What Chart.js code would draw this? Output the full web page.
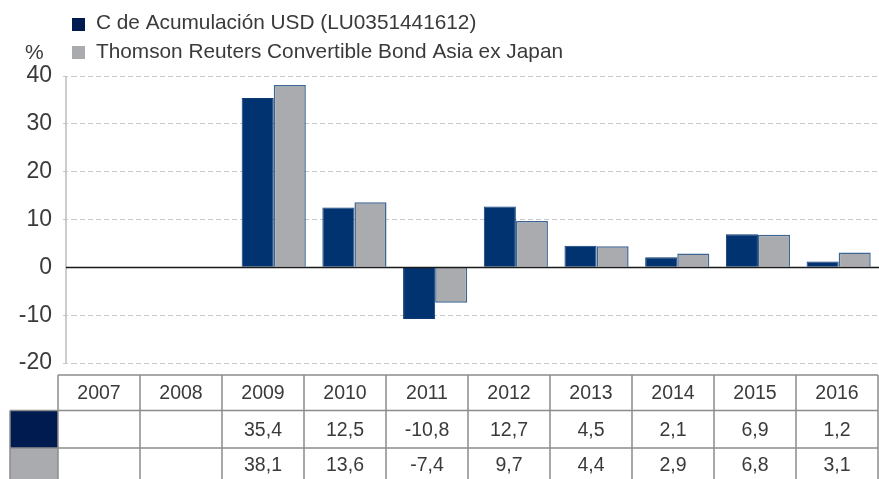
<!DOCTYPE html>
<html>
<head>
<meta charset="utf-8">
<script src="https://cdn.jsdelivr.net/npm/chart.js@4.4.1/dist/chart.umd.min.js"></script>
<style>
  html, body { margin: 0; padding: 0; background: #fff; }
  #wrap { width: 879px; height: 479px; position: relative; }
</style>
</head>
<body>
<div id="wrap"><canvas id="perf"></canvas></div>
<script>
const years = ['2007', '2008', '2009', '2010', '2011', '2012', '2013', '2014', '2015', '2016'];
const fundValues = [null, null, 35.4, 12.5, -10.8, 12.7, 4.5, 2.1, 6.9, 1.2];
const indexValues = [null, null, 38.1, 13.6, -7.4, 9.7, 4.4, 2.9, 6.8, 3.1];
const seriesNames = ['C de Acumulación USD (LU0351441612)', 'Thomson Reuters Convertible Bond Asia ex Japan'];
const yTicks = [40, 30, 20, 10, 0, -10, -20];

const NAVY = '#00336f';
const NAVY_DARK = '#001b4f';
const GREY = '#a9abaf';
const TEXT = '#3a3a3a';
const FONT = '"Liberation Sans", Arial, sans-serif';

function fmt(v) {
    return v === null ? '' : v.toFixed(1).replace('.', ',');
}

// legend, zero line, y axis line and the data table underneath
const extras = {
    id: 'extras',
    afterDatasetsDraw(chart) {
        const ctx = chart.ctx;
        const area = chart.chartArea;
        const y = chart.scales.y;
        ctx.save();
        // y axis line
        ctx.strokeStyle = '#bdbdbd';
        ctx.lineWidth = 1.5;
        ctx.beginPath();
        ctx.moveTo(66, area.top);
        ctx.lineTo(66, area.bottom);
        ctx.stroke();
        // zero line
        const y0 = Math.round(y.getPixelForValue(0)) + 0.5;
        ctx.strokeStyle = '#1a1a1a';
        ctx.lineWidth = 1.5;
        ctx.beginPath();
        ctx.moveTo(66, y0);
        ctx.lineTo(area.right, y0);
        ctx.stroke();
        ctx.restore();
    },
    afterDraw(chart) {
        const ctx = chart.ctx;
        const area = chart.chartArea;
        ctx.save();

        // legend
        ctx.fillStyle = NAVY_DARK;
        ctx.fillRect(72, 18, 13, 13);
        ctx.fillStyle = GREY;
        ctx.fillRect(72, 46, 13, 13);
        ctx.fillStyle = TEXT;
        ctx.font = '20.8px ' + FONT;
        ctx.textBaseline = 'middle';
        ctx.textAlign = 'left';
        ctx.fillText(seriesNames[0], 96, 23);
        ctx.fillText(seriesNames[1], 96, 52);
        ctx.font = '21px ' + FONT;
        ctx.fillText('%', 25, 53);

        // table
        const left = 58, right = area.right - 1;
        const colW = (right - left) / years.length;
        const rows = [375, 410.5, 448, 486];
        ctx.strokeStyle = '#8c8c8c';
        ctx.lineWidth = 1.5;

        // swatch cells
        ctx.fillStyle = NAVY_DARK;
        ctx.fillRect(10, rows[1], left - 10, rows[2] - rows[1]);
        ctx.fillStyle = GREY;
        ctx.fillRect(10, rows[2], left - 10, rows[3] - rows[2]);

        ctx.beginPath();
        ctx.moveTo(left, rows[0]);
        ctx.lineTo(right, rows[0]);
        ctx.moveTo(10, rows[1]);
        ctx.lineTo(right, rows[1]);
        ctx.moveTo(10, rows[2]);
        ctx.lineTo(right, rows[2]);
        ctx.moveTo(10, rows[1]);
        ctx.lineTo(10, rows[3]);
        for (let i = 0; i <= years.length; i++) {
            const x = left + i * colW;
            ctx.moveTo(x, rows[0]);
            ctx.lineTo(x, rows[3]);
        }
        ctx.stroke();

        ctx.fillStyle = TEXT;
        ctx.font = '19.5px ' + FONT;
        ctx.textAlign = 'center';
        years.forEach((yr, i) => {
            const cx = left + (i + 0.5) * colW;
            ctx.fillText(yr, cx, (rows[0] + rows[1]) / 2 + 1);
            ctx.fillText(fmt(fundValues[i]), cx, (rows[1] + rows[2]) / 2 + 1);
            ctx.fillText(fmt(indexValues[i]), cx, (rows[2] + 479) / 2 + 2);
        });
        ctx.restore();
    }
};

new Chart(document.getElementById('perf'), {
    type: 'bar',
    data: {
        labels: years,
        datasets: [
            {
                label: seriesNames[0],
                data: fundValues,
                backgroundColor: NAVY,
                borderColor: '#0b3a74',
                borderWidth: 1
            },
            {
                label: seriesNames[1],
                data: indexValues,
                backgroundColor: GREY,
                borderColor: '#3f6592',
                borderWidth: 1.5
            }
        ]
    },
    options: {
        responsive: true,
        maintainAspectRatio: false,
        animation: false,
        layout: { padding: { top: 76, bottom: 116, left: 0, right: 0 } },
        datasets: {
            bar: { categoryPercentage: 0.795, barPercentage: 1 }
        },
        plugins: {
            legend: { display: false },
            tooltip: { enabled: false }
        },
        scales: {
            x: { display: false },
            y: {
                min: -20,
                max: 40,
                afterFit: (scale) => { scale.width = 72; },
                afterBuildTicks: (scale) => { scale.ticks = yTicks.map(v => ({ value: v })); },
                ticks: {
                    color: TEXT,
                    padding: 11,
                    font: { family: FONT, size: 23 }
                },
                grid: {
                    color: (c) => c.tick && c.tick.value === 0 ? 'rgba(0,0,0,0)' : '#c9c9c9',
                    lineWidth: 1,
                    tickLength: 9,
                    tickColor: (c) => c.tick && c.tick.value === 0 ? 'rgba(0,0,0,0)' : '#c9c9c9',
                    tickBorderDash: [5, 3]
                },
                border: { display: false, dash: [5, 3] }
            }
        }
    },
    plugins: [extras]
});
</script>
</body>
</html>
